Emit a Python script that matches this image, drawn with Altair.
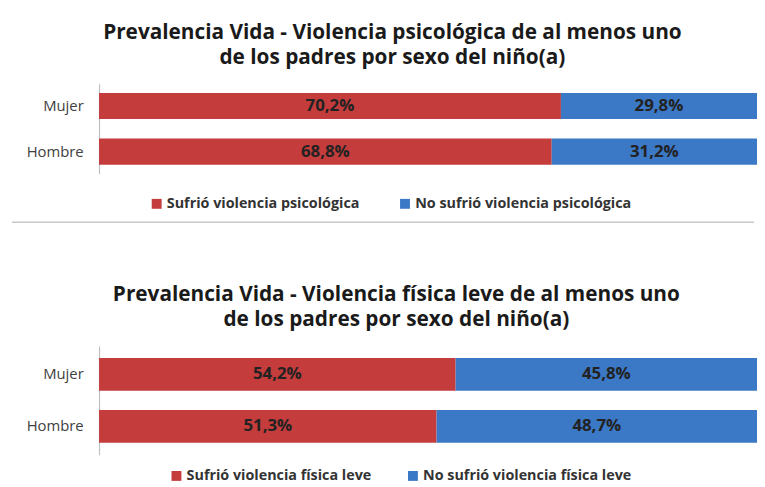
import altair as alt
import pandas as pd

sexo = ["Mujer", "Hombre"]

cat_psi = ["Sufrió violencia psicológica", "No sufrió violencia psicológica"]
sufrio_psi = [70.2, 68.8]
no_sufrio_psi = [29.8, 31.2]
titulo_psi = ["Prevalencia Vida - Violencia psicológica de al menos uno",
              "de los padres por sexo del niño(a)"]

cat_fis = ["Sufrió violencia física leve", "No sufrió violencia física leve"]
sufrio_fis = [54.2, 51.3]
no_sufrio_fis = [45.8, 48.7]
titulo_fis = ["Prevalencia Vida - Violencia física leve de al menos uno",
              "de los padres por sexo del niño(a)"]

colores = ["#c43c3c", "#3b78c6"]
FONT = "Open Sans"


def tabla(cats, v1, v2):
    rows = []
    for i, s in enumerate(sexo):
        for j, (c, v) in enumerate(zip(cats, (v1[i], v2[i]))):
            rows.append({"sexo": s, "cat": c, "orden": j, "pct": v,
                         "lbl": f"{v:.1f}".replace(".", ",") + "%"})
    return pd.DataFrame(rows)


def panel(df, cats, titulo, width, height, pad_inner, pad_outer,
          legend_x, legend_y, col_pad, title_dx, sep_y=None):
    base = alt.Chart(df).transform_stack(
        stack="pct", groupby=["sexo"], as_=["x0", "x1"],
        sort=[alt.SortField("orden")]
    ).transform_calculate(mid="(datum.x0 + datum.x1) / 2")
    y = alt.Y("sexo:N", sort=sexo, title=None,
              scale=alt.Scale(paddingInner=pad_inner, paddingOuter=pad_outer),
              axis=alt.Axis(domainColor="#bfbfbf", domainWidth=1.2, ticks=False,
                            labelFont=FONT, labelFontSize=15, labelColor="#404040",
                            labelPadding=16))
    xs = alt.Scale(domain=[0, 100], nice=False, zero=True)
    bars = base.mark_bar().encode(
        x=alt.X("x0:Q", axis=None, scale=xs),
        x2="x1:Q",
        y=y,
        color=alt.Color("cat:N", scale=alt.Scale(domain=cats, range=colores),
                        legend=alt.Legend(title=None, orient="none", legendX=legend_x,
                                          legendY=legend_y, direction="horizontal",
                                          symbolType="square", symbolSize=100,
                                          symbolStrokeWidth=0, labelFont=FONT,
                                          labelFontSize=14.5, labelFontWeight="bold",
                                          labelColor="#333333", columnPadding=col_pad,
                                          labelOffset=3, labelLimit=400)),
    )
    text = base.mark_text(font=FONT, fontSize=17, fontWeight="bold",
                          color="#222222").encode(
        x=alt.X("mid:Q", scale=xs, axis=None),
        y=y,
        text="lbl:N",
    )
    layers = [bars, text]
    if sep_y is not None:
        rule = alt.Chart(pd.DataFrame({"a": [0]})).mark_rule(
            color="#c8c8c8", strokeWidth=1.5
        ).encode(x=alt.value(-88), x2=alt.value(662), y=alt.value(sep_y))
        layers.append(rule)
    return alt.layer(*layers).properties(
        width=width, height=height,
        title=alt.TitleParams(text=titulo, font=FONT, fontSize=21, fontWeight="bold",
                              color="#1a1a1a", lineHeight=25, offset=16,
                              anchor="middle", dx=title_dx),
    )


top = panel(tabla(cat_psi, sufrio_psi, no_sufrio_psi), cat_psi, titulo_psi,
            665, 91, 0.43, 0.2, 51, 114, 38, -36, sep_y=140)
bottom = panel(tabla(cat_fis, sufrio_fis, no_sufrio_fis), cat_fis, titulo_fis,
               665, 110, 0.37, 0.23, 71, 124, 34, -32)

chart = alt.vconcat(top, bottom, spacing=62).resolve_scale(
    color="independent", x="independent", y="independent"
).properties(
    padding={"left": 3, "top": 12, "right": 0, "bottom": 0}
).configure_view(stroke=None)

chart.save("out.html", embed_options={"renderer": "svg", "actions": False})
